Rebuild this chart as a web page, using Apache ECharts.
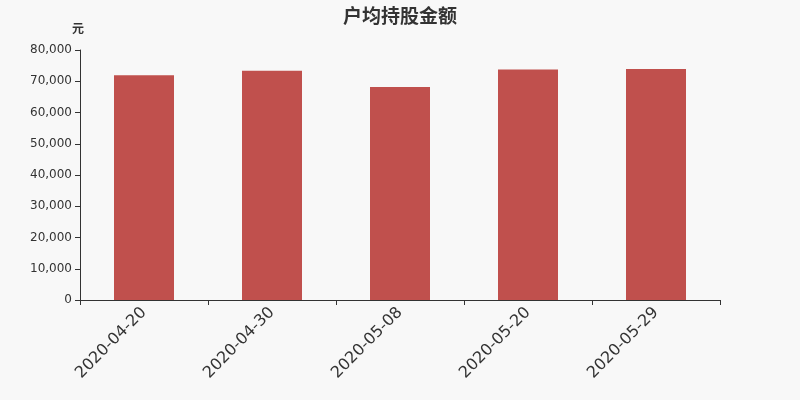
<!DOCTYPE html>
<html>
<head>
<meta charset="utf-8">
<script src="https://cdn.jsdelivr.net/npm/echarts@6/dist/echarts.min.js"></script>
<style>
  html, body {margin: 0; padding: 0; background: #f8f8f8;}
  #chart {width: 800px; height: 400px;}
</style>
</head>
<body>
<div id="chart"></div>
<script>
const dates = ['2020-04-20', '2020-04-30', '2020-05-08', '2020-05-20', '2020-05-29'];
const amounts = [71900, 73400, 68200, 73800, 73900];

const chart = echarts.init(document.getElementById('chart'));
chart.setOption({
  backgroundColor: '#f8f8f8',
  animation: false,
  textStyle: {fontFamily: 'DejaVu Sans'},
  title: {
    text: '户均持股金额',
    left: 'center',
    top: 1,
    textStyle: {fontSize: 19, fontWeight: 'bold', color: '#333', fontFamily: 'Noto Sans CJK SC'}
  },
  grid: {left: 80, right: 80, top: 50, bottom: 100},
  xAxis: {
    type: 'category',
    data: dates,
    axisLine: {lineStyle: {color: '#333'}},
    axisTick: {show: true, lineStyle: {color: '#333'}},
    axisLabel: {rotate: 45, fontSize: 16, color: '#333', margin: 10, fontFamily: 'DejaVu Sans'}
  },
  yAxis: {
    type: 'value',
    name: '元',
    nameGap: 16,
    nameTextStyle: {color: '#333', fontSize: 12, fontWeight: 'bold', align: 'center', padding: [0, 4, 0, 0], fontFamily: 'Noto Sans CJK SC'},
    min: 0,
    max: 80000,
    interval: 10000,
    axisLine: {show: true, lineStyle: {color: '#333'}},
    axisTick: {show: true, lineStyle: {color: '#333'}},
    splitLine: {show: false},
    axisLabel: {color: '#333', fontSize: 12, fontFamily: 'DejaVu Sans', formatter: v => v.toLocaleString('en-US')}
  },
  series: [{
    type: 'bar',
    data: amounts,
    barWidth: 60,
    itemStyle: {color: '#c0504d'}
  }]
});
</script>
</body>
</html>
